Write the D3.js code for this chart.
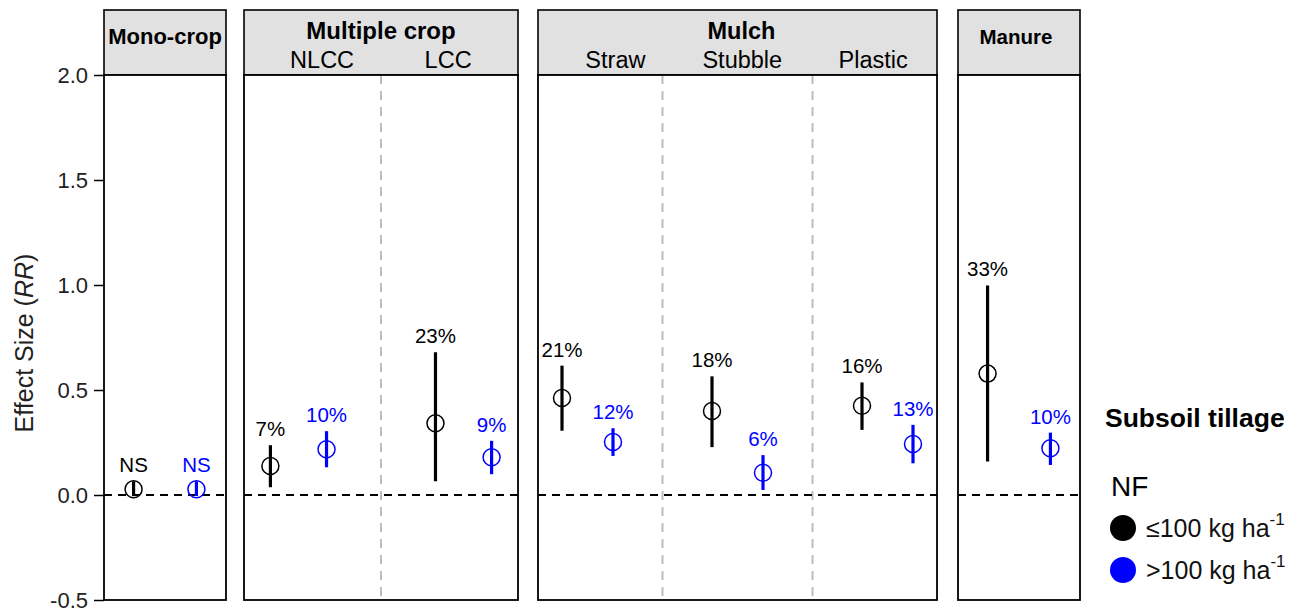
<!DOCTYPE html>
<html>
<head>
<meta charset="utf-8">
<script src="https://cdn.jsdelivr.net/npm/d3@7"></script>
<style>
  html, body { margin: 0; padding: 0; background: #fff; }
  svg { display: block; font-family: "Liberation Sans", Arial, sans-serif; }
</style>
</head>
<body>
<svg id="chart" width="1306" height="610"></svg>
<script>
// Facets (strip titles) and the categories that sit inside each one
const facetNames = ["Mono-crop", "Multiple crop", "Mulch", "Manure"];
const categories = ["Mono-crop", "NLCC", "LCC", "Straw", "Stubble", "Plastic", "Manure"];
const categoryFacet = [0, 1, 1, 2, 2, 2, 3];

// Y axis ticks
const yTicks = [-0.5, 0.0, 0.5, 1.0, 1.5, 2.0];

// NF <= 100 kg ha-1 : mean effect size with 95% CI and its label
const lowMean  = [0.027, 0.138, 0.342, 0.462, 0.400, 0.425, 0.578];
const lowLower = [-0.005, 0.037, 0.065, 0.306, 0.228, 0.310, 0.159];
const lowUpper = [0.065, 0.237, 0.680, 0.616, 0.565, 0.536, 0.998];
const lowLabel = ["NS", "7%", "23%", "21%", "18%", "16%", "33%"];

// NF > 100 kg ha-1
const highMean  = [0.027, 0.218, 0.180, 0.252, 0.106, 0.243, 0.223];
const highLower = [-0.005, 0.132, 0.099, 0.186, 0.024, 0.151, 0.143];
const highUpper = [0.065, 0.304, 0.258, 0.318, 0.190, 0.334, 0.297];
const highLabel = ["NS", "10%", "9%", "12%", "6%", "13%", "10%"];

const seriesNames = ["\u2264100 kg ha", ">100 kg ha"];
const seriesColors = ["#000000", "#0000ff"];

// ---- layout ----
const layout = {
  panels: [[104, 226], [244, 518], [538, 937], [958, 1080]],
  stripTop: 10, plotTop: 75, plotBottom: 600,
  expand: 0.33, dodge: 0.17,
  titleSize: [22, 24, 23.5, 20.5],
  subLabelFrac: { 1: [0.285, 0.745], 2: [0.194, 0.512, 0.840] }
};

const svg = d3.select("#chart");

const y = d3.scaleLinear().domain([-0.5, 2.0]).range([layout.plotBottom, layout.plotTop]);

const series = [
  { mean: lowMean, lower: lowLower, upper: lowUpper, label: lowLabel, color: seriesColors[0], side: -1 },
  { mean: highMean, lower: highLower, upper: highUpper, label: highLabel, color: seriesColors[1], side: 1 }
];

facetNames.forEach((name, f) => {
  const [x0, x1] = layout.panels[f];
  const cats = categories.filter((c, i) => categoryFacet[i] === f);
  const idx = categories.map((c, i) => i).filter(i => categoryFacet[i] === f);
  const n = cats.length;
  const x = d3.scaleLinear().domain([1 - layout.expand, n + layout.expand]).range([x0, x1]);

  const g = svg.append("g");

  // strip
  g.append("rect")
    .attr("x", x0).attr("y", layout.stripTop)
    .attr("width", x1 - x0).attr("height", layout.plotTop - layout.stripTop)
    .attr("fill", "#e1e1e1").attr("stroke", "#000").attr("stroke-width", 1.6);

  const titleY = n > 1 ? 39 : 44;
  g.append("text")
    .attr("x", n > 1 ? (x0 + x1) / 2 + (f === 1 ? 0 : 4) : (x0 + x1) / 2 - (f === 3 ? 3 : 0))
    .attr("y", titleY)
    .attr("text-anchor", "middle")
    .attr("font-weight", "bold")
    .attr("font-size", layout.titleSize[f] + "px")
    .text(name);

  if (n > 1) {
    cats.forEach((c, k) => {
      g.append("text")
        .attr("x", x0 + (x1 - x0) * layout.subLabelFrac[f][k])
        .attr("y", 68)
        .attr("text-anchor", "middle")
        .attr("font-size", "23.5px")
        .text(c);
    });
  }

  // plot panel
  g.append("rect")
    .attr("x", x0).attr("y", layout.plotTop)
    .attr("width", x1 - x0).attr("height", layout.plotBottom - layout.plotTop)
    .attr("fill", "#fff").attr("stroke", "none");

  // group separators
  for (let k = 1; k < n; k++) {
    g.append("line")
      .attr("x1", x(k + 0.5)).attr("x2", x(k + 0.5))
      .attr("y1", layout.plotTop).attr("y2", layout.plotBottom)
      .attr("stroke", "#bdbdbd").attr("stroke-width", 2)
      .attr("stroke-dasharray", "9,7");
  }

  // zero reference
  g.append("line")
    .attr("x1", x0).attr("x2", x1)
    .attr("y1", y(0)).attr("y2", y(0))
    .attr("stroke", "#000").attr("stroke-width", 2)
    .attr("stroke-dasharray", "8,6");

  // error bars, points and labels
  series.forEach(s => {
    const rows = idx.map((i, k) => ({
      pos: k + 1 + s.side * layout.dodge,
      mean: s.mean[i], lower: s.lower[i], upper: s.upper[i], label: s.label[i]
    }));
    g.selectAll(null).data(rows).enter().append("line")
      .attr("x1", d => x(d.pos)).attr("x2", d => x(d.pos))
      .attr("y1", d => y(d.lower)).attr("y2", d => y(d.upper))
      .attr("stroke", s.color).attr("stroke-width", 3.2);
    g.selectAll(null).data(rows).enter().append("circle")
      .attr("cx", d => x(d.pos)).attr("cy", d => y(d.mean))
      .attr("r", 8.5)
      .attr("fill", "none").attr("stroke", s.color).attr("stroke-width", 1.5);
    g.selectAll(null).data(rows).enter().append("text")
      .attr("x", d => x(d.pos)).attr("y", d => y(d.upper) - 9)
      .attr("text-anchor", "middle")
      .attr("font-size", "20.5px")
      .attr("fill", s.color)
      .text(d => d.label);
  });

  // panel border
  g.append("rect")
    .attr("x", x0).attr("y", layout.plotTop)
    .attr("width", x1 - x0).attr("height", layout.plotBottom - layout.plotTop)
    .attr("fill", "none").attr("stroke", "#000").attr("stroke-width", 1.8);
});

// y axis
const yAxis = d3.axisLeft(y).tickValues(yTicks).tickFormat(d3.format(".1f")).tickSizeOuter(0).tickSize(10).tickPadding(6);
const ya = svg.append("g").attr("transform", `translate(${layout.panels[0][0]},0)`).call(yAxis);
ya.select(".domain").remove();
ya.selectAll(".tick line").attr("stroke", "#000").attr("stroke-width", 1.5);
ya.selectAll(".tick text")
  .attr("font-size", "22px").attr("fill", "#222")
  .attr("font-family", "Liberation Sans, Arial, sans-serif")
  .text(d => d < 0 ? "-" + Math.abs(d).toFixed(1) : d.toFixed(1));

// y axis title
const yt = svg.append("text")
  .attr("transform", "translate(33,343) rotate(-90)")
  .attr("text-anchor", "middle")
  .attr("font-size", "25px")
  .attr("fill", "#222");
yt.append("tspan").text("Effect Size (");
yt.append("tspan").attr("font-style", "italic").text("RR");
yt.append("tspan").text(")");

// legend
const lg = svg.append("g");
lg.append("text").attr("x", 1105).attr("y", 427)
  .attr("font-size", "26.5px").attr("font-weight", "bold").text("Subsoil tillage");
lg.append("text").attr("x", 1111).attr("y", 496)
  .attr("font-size", "28px").text("NF");
seriesNames.forEach((nm, i) => {
  const cy = 528 + i * 42;
  lg.append("circle").attr("cx", 1123).attr("cy", cy).attr("r", 13).attr("fill", seriesColors[i]);
  const t = lg.append("text").attr("x", 1146).attr("y", cy + 9).attr("font-size", "25px").attr("fill", "#111");
  t.append("tspan").text(nm);
  t.append("tspan").attr("dy", -12).attr("font-size", "17px").text("-1");
});
</script>
</body>
</html>
